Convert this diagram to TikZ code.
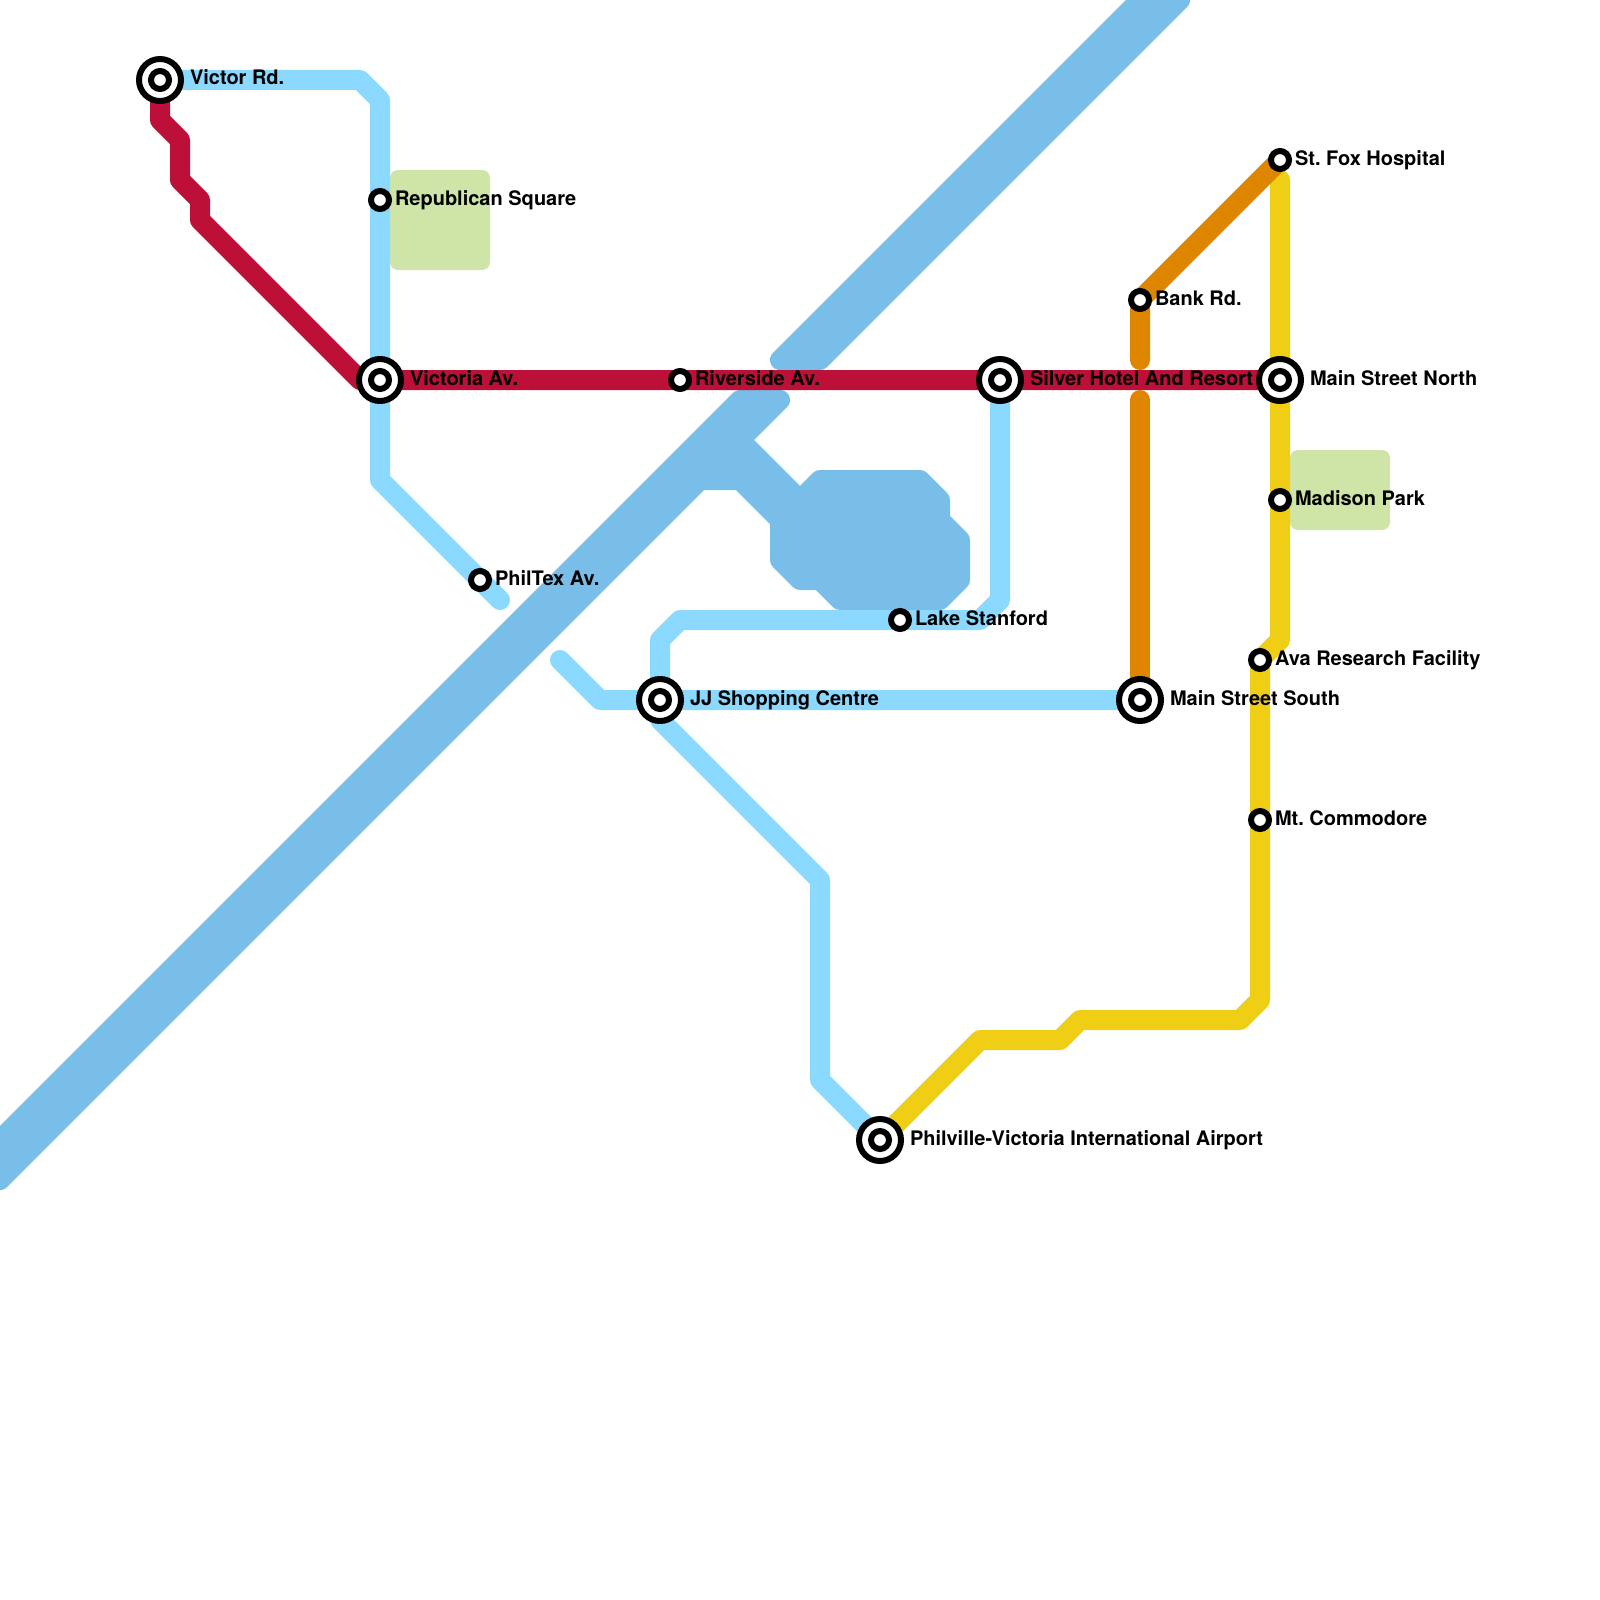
\documentclass[tikz,border=0pt]{standalone}
\usepackage{fontspec}
\setmainfont{TeX Gyre Heros}
\usetikzlibrary{backgrounds}
\definecolor{cwater}{HTML}{79BDE9}
\definecolor{cpark}{HTML}{CFE4A7}
\definecolor{csky}{HTML}{8CD9FF}
\definecolor{cred}{HTML}{BD1038}
\definecolor{corange}{HTML}{DF8600}
\definecolor{cyellow}{HTML}{F0CE15}
\tikzset{
  metro/.style={line width=20pt,line cap=round,line join=round},
  water/.style={fill=cwater,draw=cwater,line width=20pt,line join=round},
  park/.style={fill=cpark,rounded corners=8pt},
  smallst/.style={circle,draw=black,fill=white,line width=6pt,inner sep=0pt,outer sep=0pt,minimum size=18pt},
  bigst/.style={circle,draw=black,fill=white,line width=6pt,inner sep=0pt,outer sep=0pt,minimum size=42pt},
  lab/.style={anchor=base west,inner sep=0pt,outer sep=0pt,text=black,font=\fontsize{20}{24}\selectfont\bfseries\frenchspacing}
}
\begin{document}
\begin{tikzpicture}[x=1pt,y=-1pt]
\useasboundingbox (0,0) rectangle (1600,1600);
% stations
\node[bigst] (victor) at (160,80) {};
\node[smallst] (victorI) at (victor.center) {};
\node[bigst] (victoria) at (380,380) {};
\node[smallst] (victoriaI) at (victoria.center) {};
\node[bigst] (silver) at (1000,380) {};
\node[smallst] (silverI) at (silver.center) {};
\node[bigst] (mainN) at (1280,380) {};
\node[smallst] (mainNI) at (mainN.center) {};
\node[bigst] (jj) at (660,700) {};
\node[smallst] (jjI) at (jj.center) {};
\node[bigst] (mainS) at (1140,700) {};
\node[smallst] (mainSI) at (mainS.center) {};
\node[bigst] (airport) at (880,1140) {};
\node[smallst] (airportI) at (airport.center) {};
\node[smallst] (republican) at (380,200) {};
\node[smallst] (riverside) at (680,380) {};
\node[smallst] (philtex) at (480,580) {};
\node[smallst] (stanford) at (900,620) {};
\node[smallst] (foxh) at (1280,160) {};
\node[smallst] (bank) at (1140,300) {};
\node[smallst] (madison) at (1280,500) {};
\node[smallst] (ava) at (1260,660) {};
\node[smallst] (commodore) at (1260,820) {};
% free ends
\coordinate (philtexEnd) at (500,600);
\coordinate (jjEnd) at (560,660);
\coordinate (yellowEnd) at (1280,180);
\coordinate (bankEnd) at (1140,360);
\coordinate (orangeStart) at (1140,400);
% labels
\node[lab] (lVictor) at ([shift={(30,5)}]victor.center) {Victor Rd.};
\node[lab] (lRepublican) at ([shift={(15,5)}]republican.center) {Republican Square};
\node[lab] (lVictoria) at ([shift={(30,5)}]victoria.center) {Victoria Av.};
\node[lab] (lRiverside) at ([shift={(15,5)}]riverside.center) {Riverside Av.};
\node[lab] (lPhiltex) at ([shift={(15,5)}]philtex.center) {PhilTex Av.};
\node[lab] (lSilver) at ([shift={(30,5)}]silver.center) {Silver Hotel And Resort};
\node[lab] (lMainN) at ([shift={(30,5)}]mainN.center) {Main Street North};
\node[lab] (lFox) at ([shift={(15,5)}]foxh.center) {St. Fox Hospital};
\node[lab] (lBank) at ([shift={(15,5)}]bank.center) {Bank Rd.};
\node[lab] (lMadison) at ([shift={(15,5)}]madison.center) {Madison Park};
\node[lab] (lStanford) at ([shift={(15,5)}]stanford.center) {Lake Stanford};
\node[lab] (lAva) at ([shift={(15,5)}]ava.center) {Ava Research Facility};
\node[lab] (lMainS) at ([shift={(30,5)}]mainS.center) {Main Street South};
\node[lab] (lJJ) at ([shift={(30,5)}]jj.center) {JJ Shopping Centre};
\node[lab] (lCommodore) at ([shift={(15,5)}]commodore.center) {Mt. Commodore};
\node[lab] (lAirport) at ([shift={(30,5)}]airport.center) {Philville-Victoria International Airport};
\begin{scope}[on background layer]
  \clip (0,0) rectangle (1600,1600);
  % water
  \path[water] (780,360) -- (820,360) -- (1180,0) -- (1140,0) -- cycle;
  \path[water] (0,1140) -- (740,400) -- (780,400) -- (740,440) -- (800,500) -- (820,480)
     -- (920,480) -- (940,500) -- (940,520) -- (960,540) -- (960,580) -- (940,600)
     -- (840,600) -- (820,580) -- (800,580) -- (780,560) -- (780,520) -- (740,480)
     -- (700,480) -- (0,1180) -- cycle;
  % parks
  \fill[park] (390,170) rectangle (490,270);
  \fill[park] (1290,450) rectangle (1390,530);
  % lines
  \draw[metro,csky] (victor.center) -- (360,80) -- (380,100) -- (380,480) -- (philtexEnd);
  \draw[metro,csky] (jjEnd) -- (600,700) -- (mainS.center);
  \draw[metro,csky] (jj.center) -- (660,640) -- (680,620) -- (980,620) -- (1000,600) -- (silver.center);
  \draw[metro,csky] (jj.center) -- (660,720) -- (820,880) -- (820,1080) -- (airport.center);
  \draw[metro,cred] (victor.center) -- (160,120) -- (180,140) -- (180,180) -- (200,200) -- (200,220) -- (360,380) -- (mainN.center);
  \draw[metro,cyellow] (yellowEnd) -- (1280,640) -- (1260,660) -- (1260,1000) -- (1240,1020) -- (1080,1020) -- (1060,1040) -- (980,1040) -- (airport.center);
  \draw[metro,corange] (foxh.center) -- (bank.center) -- (bankEnd);
  \draw[metro,corange] (orangeStart) -- (mainS.center);
\end{scope}
\end{tikzpicture}
\end{document}
